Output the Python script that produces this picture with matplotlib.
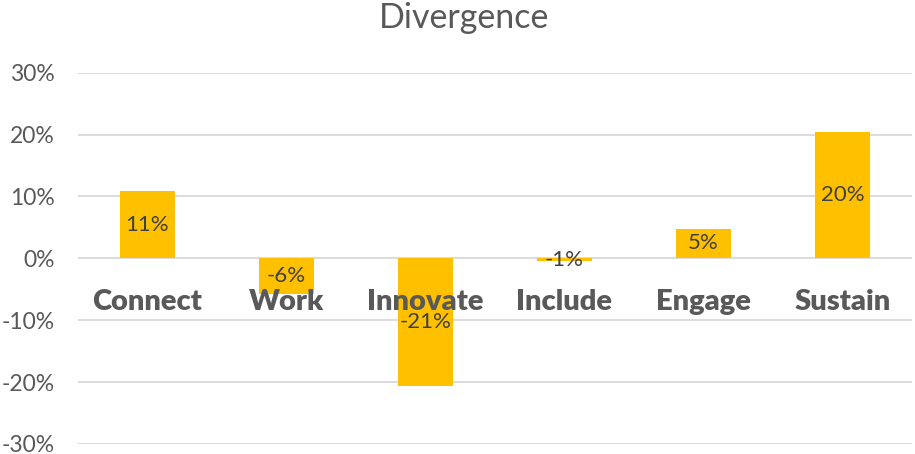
import matplotlib
matplotlib.use("Agg")
import matplotlib.pyplot as plt
from matplotlib.ticker import FuncFormatter

categories = ["Connect", "Work", "Innovate", "Include", "Engage", "Sustain"]
values = [0.1085, -0.058, -0.206, -0.005, 0.048, 0.204]
labels = ["11%", "-6%", "-21%", "-1%", "5%", "20%"]
yticks = [-0.3, -0.2, -0.1, 0.0, 0.1, 0.2, 0.3]

plt.rcParams['font.family'] = ['Lato', 'DejaVu Sans']

fig = plt.figure(figsize=(9.15, 4.54), dpi=100)
ax = fig.add_axes([78/915, 10/454, (912-78)/915, (444-72.7)/454])

x = list(range(len(categories)))
ax.bar(x, values, width=0.4, color="#FFC000", zorder=3)

ax.set_xlim(-0.5, len(categories) - 0.5)
ax.set_ylim(-0.3, 0.3)
ax.set_yticks(yticks)
ax.yaxis.set_major_formatter(FuncFormatter(lambda v, p: f"{round(v*100):.0f}%"))
ax.tick_params(axis='y', length=0, pad=17, labelsize=16.5, labelcolor="#595959")
ax.set_xticks([])
ax.grid(axis='y', color="#D9D9D9", linewidth=1.3, zorder=0)
for s in ax.spines.values():
    s.set_visible(False)

for xi, v, lab in zip(x, values, labels):
    ax.text(xi, v / 2, lab, ha='center', va='center', fontsize=16,
            color="#404040", zorder=5)
    ax.text(xi, -0.0705, categories[xi], ha='center', va='center', fontsize=21,
            fontweight='heavy', color="#595959", zorder=4)

fig.text(464.5/915, 1 - 18/454, "Divergence", ha='center', va='center',
         fontsize=24.5, color="#595959")

fig.savefig("out.png", dpi=100)
